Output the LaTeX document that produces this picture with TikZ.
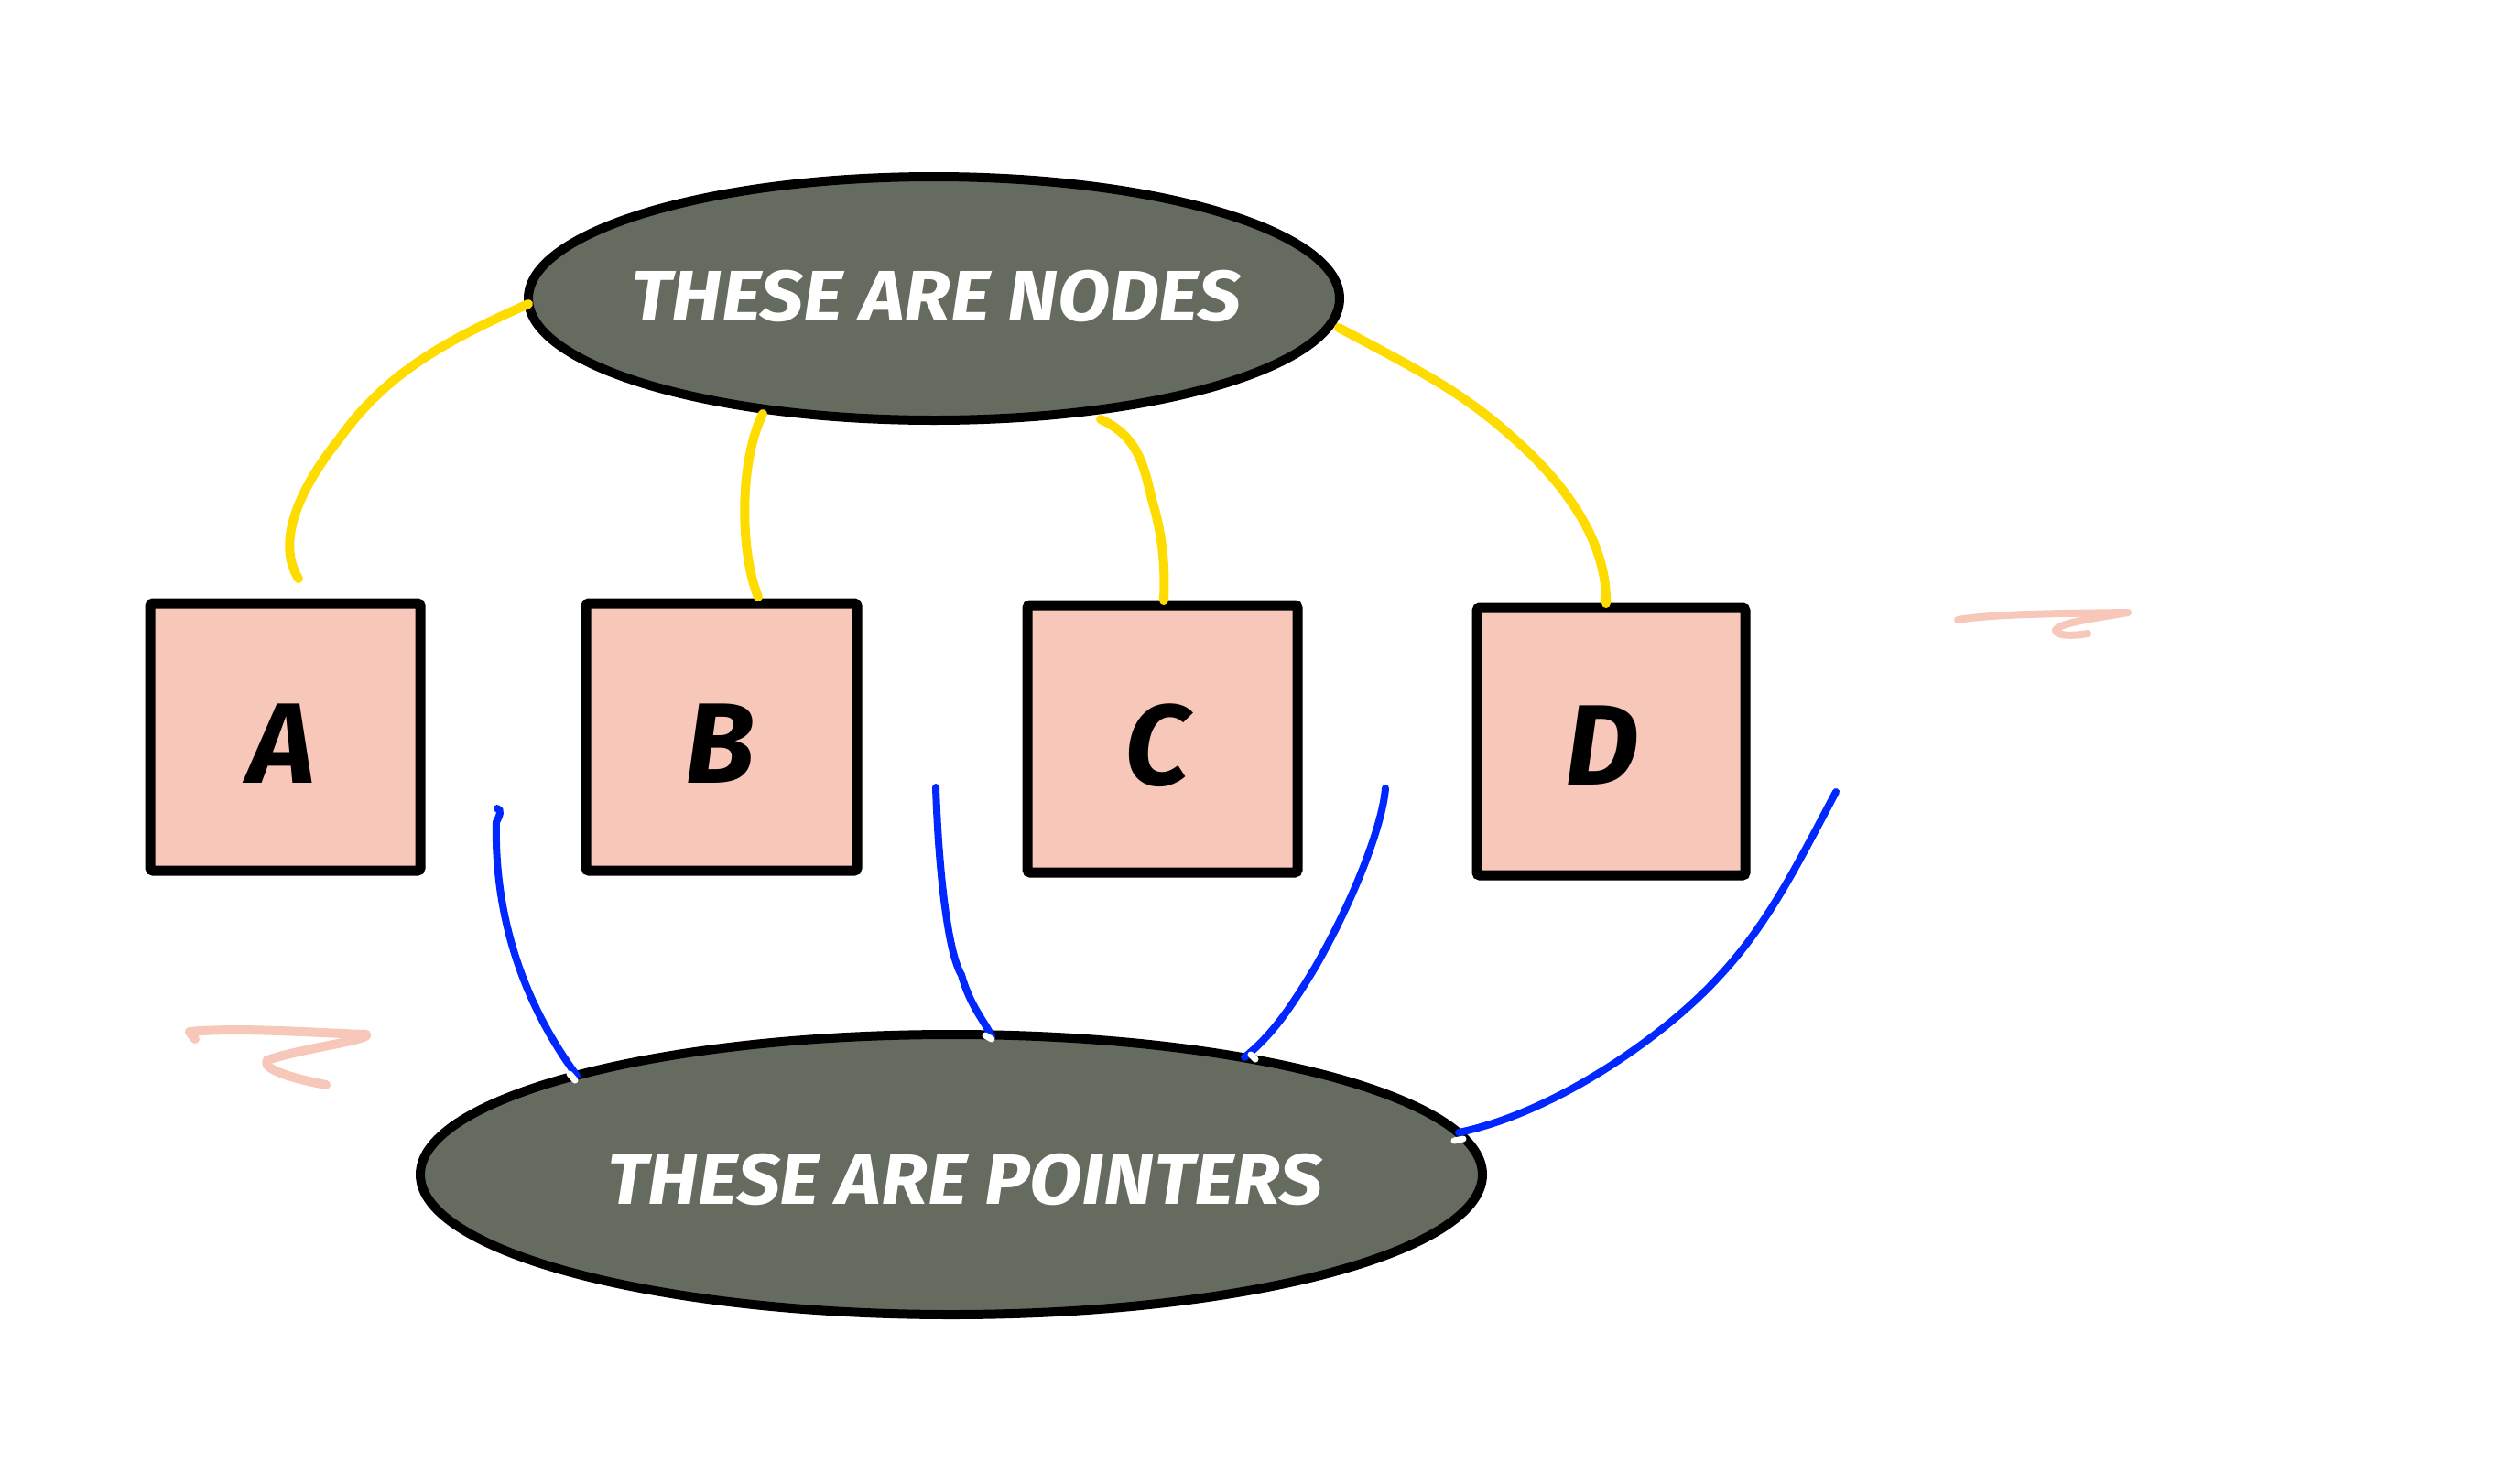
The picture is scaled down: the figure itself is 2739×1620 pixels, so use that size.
\documentclass[tikz,border=0pt]{standalone}
\usepackage{fontspec}
\setmainfont{Fira Sans}
\usetikzlibrary{shapes.geometric}
\definecolor{boxpink}{HTML}{F7C7B9}
\definecolor{ovalgrey}{HTML}{666B60}
\definecolor{linkyellow}{HTML}{FFDC00}
\definecolor{ptrblue}{HTML}{0027FF}
\tikzset{
  nodebox/.style={draw=black, line width=11pt, fill=boxpink, rounded corners=3pt},
  boxlabel/.style={font=\fontsize{125}{130}\selectfont\bfseries\itshape, text=black},
  oval/.style={draw=black, line width=10pt, fill=ovalgrey},
  ovallabel/.style={font=\fontsize{78}{82}\selectfont\bfseries\itshape, text=white, xscale=1.07},
  yellink/.style={draw=linkyellow, line width=10pt, line cap=round},
  bluelink/.style={draw=ptrblue, line width=8pt, line cap=round},
  whitetick/.style={draw=white, line width=7pt, line cap=round},
  scribble/.style={draw=boxpink, line width=10pt, line cap=round, line join=round},
}
\begin{document}
\begin{tikzpicture}[x=1pt,y=-1pt]
\useasboundingbox (0,0) rectangle (2739,1620);
% top ellipse
\draw[oval] (1020,326) ellipse [x radius=443, y radius=133];
\node[ovallabel] (top) at (1022,323) {THESE ARE NODES};
\coordinate (topL) at (577,332);
\coordinate (topB1) at (833,452);
\coordinate (topB2) at (1202,458);
\coordinate (topR) at (1462,358);
% bottom ellipse
\draw[oval] (1039,1283) ellipse [x radius=580, y radius=153];
\node[ovallabel] (bot) at (1054,1288) {THESE ARE POINTERS};
\coordinate (botA) at (630,1175);
\coordinate (botB) at (1083,1132);
\coordinate (botC) at (1359,1155);
\coordinate (botD) at (1593,1237);
% boxes
\draw[nodebox] (164,659) rectangle (459,951);
\node[boxlabel] (A) at (308,812) {A};
\draw[nodebox] (640,659) rectangle (936,951);
\node[boxlabel] (B) at (786,812) {B};
\draw[nodebox] (1122,661) rectangle (1417,953);
\node[boxlabel] (C) at (1264,814) {C};
\draw[nodebox] (1613,664) rectangle (1906,956);
\node[boxlabel] (D) at (1750,814) {D};
\coordinate (Atop) at (326,632);
\coordinate (Btop) at (828,652);
\coordinate (Ctop) at (1271,656);
\coordinate (Dtop) at (1754,659);
% yellow links
\draw[yellink] (topL) .. controls (480,375) and (420,410) .. (370,480)
  .. controls (330,530) and (300,590) .. (Atop);
\draw[yellink] (topB1) .. controls (805,510) and (810,610) .. (Btop);
\draw[yellink] (topB2) .. controls (1250,480) and (1250,520) .. (1262,560)
  .. controls (1272,600) and (1272,630) .. (Ctop);
\draw[yellink] (topR) .. controls (1560,410) and (1600,430) .. (1660,485)
  .. controls (1720,540) and (1755,600) .. (Dtop);
% blue pointers
\coordinate (pA) at (543,883);
\coordinate (pB) at (1022,860);
\coordinate (pC) at (1513,861);
\coordinate (pD) at (2005,865);
\draw[bluelink] (pA) .. controls (548,885) and (546,890) .. (542,898)
  .. controls (540,980) and (560,1080) .. (botA);
\draw[bluelink] (pB) .. controls (1025,950) and (1035,1040) .. (1050,1065)
  .. controls (1060,1100) and (1075,1115) .. (botB);
\draw[bluelink] (pC) .. controls (1510,900) and (1480,980) .. (1436,1057)
  .. controls (1410,1100) and (1390,1130) .. (botC);
\draw[bluelink] (pD) .. controls (1960,950) and (1930,1010) .. (1878,1066)
  .. controls (1820,1130) and (1700,1215) .. (botD);
% white ticks at pointer ends
\draw[whitetick] (622,1173) -- (628,1180);
\draw[whitetick] (1076,1131) -- (1083,1135);
\draw[whitetick] (1366,1152) -- (1371,1157);
\draw[whitetick] (1588,1246) -- (1598,1244);
% pink scribbles
\draw[scribble] (213,1135) -- (207,1127) .. controls (260,1122) and (340,1128) .. (400,1130)
  .. controls (405,1136) and (330,1145) .. (292,1158)
  .. controls (285,1168) and (320,1178) .. (356,1185);
\draw[scribble, line width=8pt] (2138,677) .. controls (2180,670) and (2260,670) .. (2324,669)
  .. controls (2290,675) and (2250,680) .. (2245,688)
  .. controls (2245,696) and (2270,694) .. (2280,692);
\end{tikzpicture}
\end{document}
